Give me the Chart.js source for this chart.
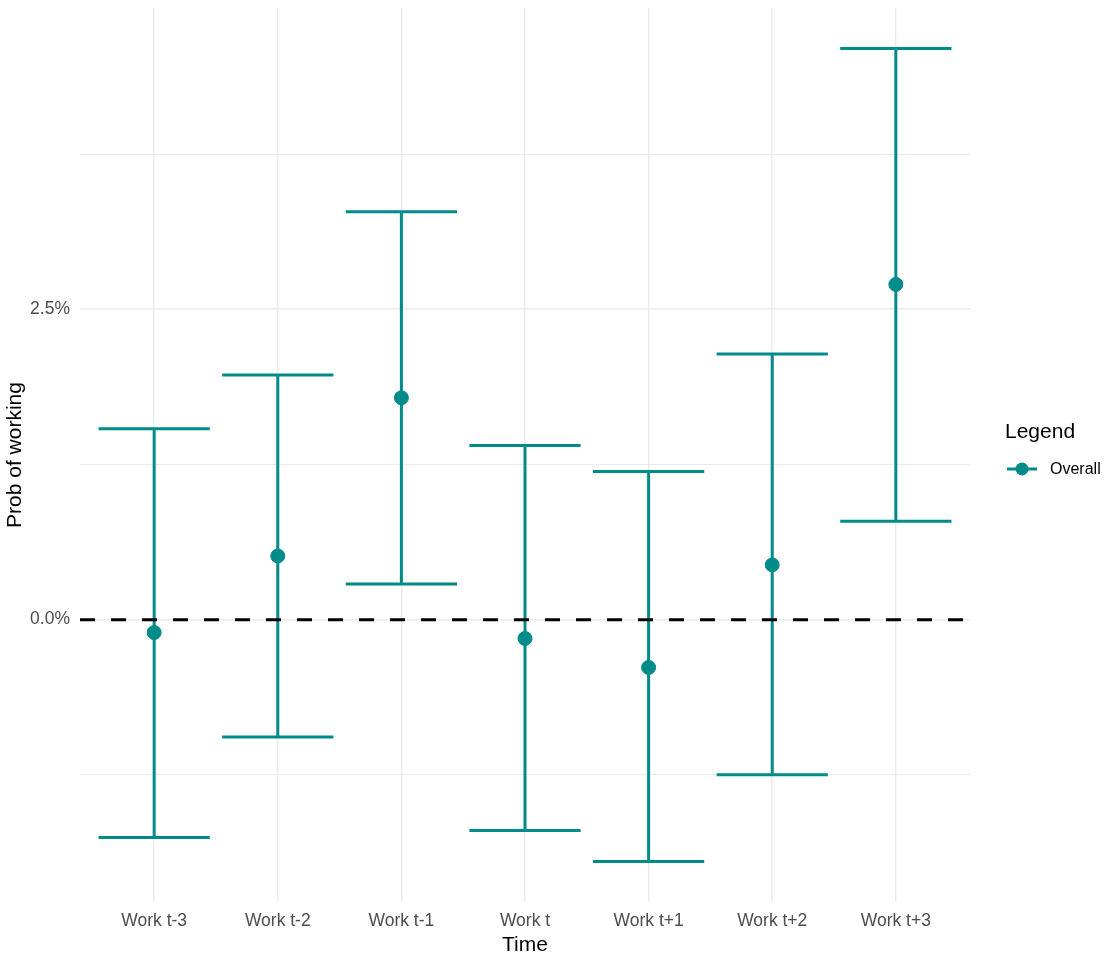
<!DOCTYPE html>
<html lang="en">
<head>
<meta charset="UTF-8">
<title>Prob of working by time</title>
<script src="https://cdn.jsdelivr.net/npm/chart.js"></script>
<style>
    body { margin: 0; background: #fff; font-family: Arial, "Liberation Sans", sans-serif; }
    #wrap { position: relative; width: 1105px; height: 954px; }
</style>
</head>
<body>
<div id="wrap"><canvas id="chart" width="1105" height="954"></canvas></div>
<script>
// data (values in %)
const categories = ['Work t-3', 'Work t-2', 'Work t-1', 'Work t', 'Work t+1', 'Work t+2', 'Work t+3'];
const estimates = [-0.104, 0.513, 1.787, -0.152, -0.385, 0.441, 2.700];
const upperCI   = [1.538, 1.971, 3.285, 1.402, 1.194, 2.139, 4.599];
const lowerCI   = [-1.755, -0.946, 0.288, -1.699, -1.947, -1.250, 0.793];
const yTicks = [-1.25, 0, 1.25, 2.5, 3.75];
const yLabelled = [0, 2.5];

const teal = '#008B8B';
const font = 'Arial, "Liberation Sans", sans-serif';

// error bars + dashed zero line
const errorBars = {
    id: 'errorBars',
    beforeDatasetsDraw(chart) {
        const { ctx, scales: { x, y }, chartArea } = chart;
        ctx.save();
        ctx.strokeStyle = teal;
        ctx.lineWidth = 3;
        categories.forEach((c, i) => {
            const xc = x.getPixelForValue(i + 1);
            const xl = x.getPixelForValue(i + 1 - 0.45);
            const xr = x.getPixelForValue(i + 1 + 0.45);
            const yt = y.getPixelForValue(upperCI[i]);
            const yb = y.getPixelForValue(lowerCI[i]);
            ctx.beginPath();
            ctx.moveTo(xc, yt); ctx.lineTo(xc, yb);
            ctx.moveTo(xl, yt); ctx.lineTo(xr, yt);
            ctx.moveTo(xl, yb); ctx.lineTo(xr, yb);
            ctx.stroke();
        });
        // zero line
        const y0 = y.getPixelForValue(0);
        ctx.strokeStyle = '#000';
        ctx.lineWidth = 3;
        ctx.setLineDash([15, 16]);
        ctx.beginPath();
        ctx.moveTo(chartArea.left, y0);
        ctx.lineTo(chartArea.right, y0);
        ctx.stroke();
        ctx.restore();
    }
};

// ggplot style legend on the right
const sideLegend = {
    id: 'sideLegend',
    afterDraw(chart) {
        const { ctx } = chart;
        ctx.save();
        ctx.fillStyle = '#000';
        ctx.textBaseline = 'middle';
        ctx.textAlign = 'left';
        ctx.font = '21px ' + font;
        ctx.fillText('Legend', 1005, 432);
        ctx.strokeStyle = teal;
        ctx.lineWidth = 3;
        ctx.beginPath();
        ctx.moveTo(1007, 469); ctx.lineTo(1037, 469);
        ctx.stroke();
        ctx.fillStyle = teal;
        ctx.beginPath();
        ctx.arc(1022, 469, 6.5, 0, Math.PI * 2);
        ctx.fill();
        ctx.fillStyle = '#000';
        ctx.font = '16px ' + font;
        ctx.fillText('Overall', 1050, 470);
        ctx.restore();
    }
};

new Chart(document.getElementById('chart'), {
    type: 'scatter',
    data: {
        datasets: [{
            label: 'Overall',
            data: estimates.map((v, i) => ({ x: i + 1, y: v })),
            backgroundColor: teal,
            borderColor: teal,
            pointRadius: 7,
            pointHoverRadius: 7,
            showLine: false
        }]
    },
    options: {
        responsive: false,
        animation: false,
        layout: { padding: { top: 0, right: 135, left: 3, bottom: 0 } },
        plugins: { legend: { display: false }, tooltip: { enabled: false } },
        scales: {
            x: {
                type: 'linear',
                min: 0.4,
                max: 7.6,
                afterBuildTicks: axis => { axis.ticks = categories.map((c, i) => ({ value: i + 1 })); },
                afterFit: axis => { axis.height = 52; axis.paddingLeft = 0; axis.paddingRight = 0; },
                ticks: {
                    callback: v => categories[v - 1],
                    color: '#4D4D4D',
                    font: { family: font, size: 17.5 },
                    padding: 9,
                    maxRotation: 0
                },
                grid: { color: '#EBEBEB', lineWidth: 1.5, drawTicks: false },
                border: { display: false },
                title: {
                    display: true, text: 'Time', color: '#000',
                    font: { family: font, size: 21 }, padding: { top: 0, bottom: -4 }
                }
            },
            y: {
                min: -2.274,
                max: 4.926,
                afterBuildTicks: axis => { axis.ticks = yTicks.map(v => ({ value: v })); },
                afterFit: axis => { axis.width = 77; axis.paddingTop = 0; axis.paddingBottom = 0; },
                ticks: {
                    callback: v => yLabelled.includes(v) ? v.toFixed(1) + '%' : '',
                    color: '#4D4D4D',
                    font: { family: font, size: 17.5 },
                    padding: 10
                },
                grid: {
                    color: '#EBEBEB',
                    lineWidth: ctx => yLabelled.includes(ctx.tick && ctx.tick.value) ? 1.5 : 1,
                    drawTicks: false
                },
                border: { display: false },
                title: {
                    display: true, text: 'Prob of working', color: '#000',
                    font: { family: font, size: 21 }, padding: { top: 0, bottom: 0 }
                }
            }
        }
    },
    plugins: [errorBars, sideLegend]
});
</script>
</body>
</html>
